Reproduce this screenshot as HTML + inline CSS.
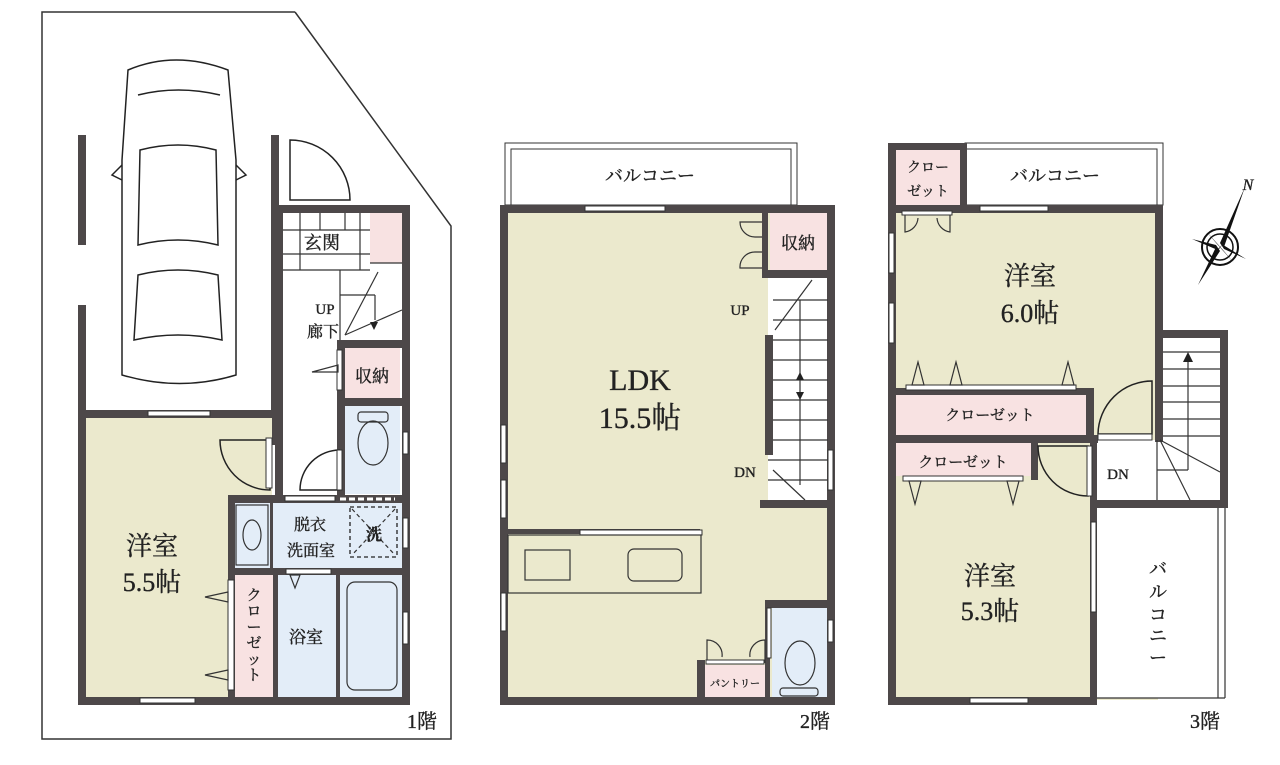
<!DOCTYPE html>
<html><head><meta charset="utf-8"><style>
html,body{margin:0;padding:0;background:#fff;}
svg{display:block;}
text{font-family:"Liberation Serif","Noto Serif CJK SC",serif;fill:#222;stroke:#222;stroke-width:0.35;}
</style></head><body>
<svg width="1280" height="765" viewBox="0 0 1280 765" xmlns="http://www.w3.org/2000/svg">
<defs>
<style>
.w{fill:#4d4849}
.b{fill:#ebe9cd}
.p{fill:#f8e2e2}
.bl{fill:#e3edf8}
.ln{fill:none;stroke:#222;stroke-width:1.5}
.tl{fill:none;stroke:#333;stroke-width:1.2}
.win{fill:#fff;stroke:#333;stroke-width:1}
</style>
</defs>

<!-- ===== FLOOR 1 ===== -->
<polyline fill="none" stroke="#333" stroke-width="1.5" points="295,12 42,12 42,739 451,739 451,226 295,12" />
<rect class="w" x="78" y="135" width="8" height="110"/>
<rect class="w" x="78" y="305" width="8" height="110"/>
<rect class="w" x="271" y="135" width="8" height="310"/>
<g class="ln">
<path d="M128,70 Q175,50 228,70 L236,160 L236,375 Q180,392 122,375 L122,160 Z"/>
<path d="M138,95 Q178,85 220,95"/>
<path d="M140,150 Q178,140 216,150 L218,245 Q178,235 138,245 Z"/>
<path d="M138,275 Q178,265 218,275 L222,340 Q178,330 134,340 Z"/>
<path d="M122,165 L112,175 L122,180 M236,165 L246,175 L236,180"/>
</g>
<rect class="b" x="86" y="418" width="186" height="280"/>
<rect x="283" y="213" width="119" height="282" fill="#fff"/>
<rect class="p" x="370" y="213" width="32" height="50"/>
<rect class="p" x="345" y="348" width="55" height="50"/>
<rect class="bl" x="345" y="406" width="55" height="88"/>
<rect class="bl" x="235" y="503" width="167" height="65"/>
<rect class="p" x="235" y="575" width="38" height="122"/>
<rect class="bl" x="278" y="575" width="58" height="122"/>
<rect class="bl" x="340" y="575" width="62" height="122"/>
<rect class="w" x="78" y="410" width="197" height="8"/>
<rect class="w" x="78" y="410" width="8" height="295"/>
<rect class="w" x="78" y="697" width="332" height="8"/>
<rect class="w" x="402" y="205" width="8" height="500"/>
<rect class="w" x="275" y="205" width="135" height="8"/>
<rect class="w" x="275" y="205" width="8" height="295"/>
<rect class="w" x="337" y="340" width="8" height="160"/>
<rect class="w" x="337" y="340" width="70" height="8"/>
<rect class="w" x="337" y="398" width="70" height="8"/>
<rect class="w" x="228" y="495" width="180" height="8"/>
<rect class="w" x="228" y="495" width="7" height="205"/>
<rect class="w" x="228" y="568" width="180" height="7"/>
<rect class="w" x="273" y="568" width="5" height="132"/>
<rect class="w" x="336" y="575" width="4" height="125"/>
<rect class="w" x="270" y="503" width="3" height="65"/>
<rect class="win" x="148" y="411" width="62" height="5"/>
<rect class="win" x="140" y="698" width="55" height="5"/>
<rect class="win" x="403" y="518" width="5" height="30"/>
<rect class="win" x="403" y="612" width="5" height="32"/>
<rect class="win" x="403" y="432" width="5" height="22"/>
<path class="ln" d="M290,200 L290,140 A60,60 0 0 1 350,200 Z"/>
<g class="tl">
<line x1="283" y1="230" x2="370" y2="230"/><line x1="283" y1="254" x2="370" y2="254"/>
<line x1="300" y1="213" x2="300" y2="270"/><line x1="320" y1="213" x2="320" y2="230"/><line x1="345" y1="213" x2="345" y2="230"/>
<line x1="360" y1="213" x2="360" y2="270"/><line x1="283" y1="270" x2="370" y2="270"/>
<line x1="370" y1="263" x2="402" y2="263"/>
</g>
<text x="322" y="249" font-size="18" text-anchor="middle">玄関</text>
<g class="tl">
<line x1="340" y1="270" x2="340" y2="340"/>
<line x1="340" y1="295" x2="375" y2="295"/><line x1="375" y1="295" x2="375" y2="320"/>
<line x1="345" y1="335" x2="378" y2="272"/><line x1="345" y1="335" x2="402" y2="310"/>
</g>
<polygon points="370,322 378,322 374,330" fill="#222"/>
<text x="325" y="314" font-size="15" text-anchor="middle">UP</text>
<text x="323" y="337" font-size="16" text-anchor="middle">廊下</text>
<text x="372" y="382" font-size="17" text-anchor="middle">収納</text>
<rect class="win" x="337" y="350" width="5" height="40"/>
<polygon class="tl" points="338,372 312,372 338,365" fill="#fff"/>
<path class="ln" d="M270,440 L220,440 A50,50 0 0 0 270,490 Z"/>
<rect class="win" x="266" y="438" width="6" height="50"/>
<path class="ln" d="M340,490 L300,490 A40,40 0 0 1 340,450"/>
<rect class="win" x="337" y="450" width="5" height="40"/>
<rect class="tl" x="358" y="412" width="30" height="10" rx="3" fill="#fff"/>
<ellipse class="tl" cx="373" cy="443" rx="15" ry="22" fill="#fff"/>
<rect class="win" x="285" y="496" width="50" height="5"/>
<line x1="340" y1="499" x2="395" y2="499" stroke="#fff" stroke-width="3" stroke-dasharray="6,3"/>
<rect class="tl" x="236" y="505" width="32" height="60" fill="#e3edf8"/>
<ellipse class="tl" cx="252" cy="535" rx="9" ry="15"/>
<text x="310" y="530" font-size="16" text-anchor="middle">脱衣</text>
<text x="311" y="556" font-size="16" text-anchor="middle">洗面室</text>
<rect x="350" y="507" width="47" height="50" fill="none" stroke="#222" stroke-width="1.3" stroke-dasharray="4,3"/>
<line class="tl" x1="352" y1="509" x2="395" y2="555" stroke-dasharray="4,3"/>
<line class="tl" x1="395" y1="509" x2="352" y2="555" stroke-dasharray="4,3"/>
<text x="374" y="540" font-size="16" text-anchor="middle" font-weight="bold">洗</text>
<rect class="win" x="286" y="569" width="45" height="5"/>
<polygon class="tl" points="290,575 300,575 295,588" fill="#fff"/>
<text x="306" y="643" font-size="17" text-anchor="middle">浴室</text>
<rect class="tl" x="347" y="582" width="50" height="108" rx="8" fill="#e3edf8"/>
<rect class="win" x="228" y="580" width="6" height="110"/>
<polygon class="tl" points="228,592 205,597 228,602" fill="#fff"/>
<polygon class="tl" points="228,670 205,675 228,680" fill="#fff"/>
<text font-size="15" text-anchor="middle"><tspan x="254" y="600">ク</tspan><tspan x="254" y="616">ロ</tspan><tspan x="254" y="632">ー</tspan><tspan x="254" y="648">ゼ</tspan><tspan x="254" y="664">ッ</tspan><tspan x="254" y="680">ト</tspan></text>
<text x="152" y="555" font-size="26" text-anchor="middle">洋室</text>
<text x="152" y="591" font-size="26" text-anchor="middle">5.5帖</text>
<text x="422" y="728" font-size="20" text-anchor="middle">1階</text>

<!-- ===== FLOOR 2 ===== -->
<rect x="505" y="143" width="292" height="62" fill="#fff" stroke="#333" stroke-width="1"/>
<rect x="511" y="149" width="280" height="56" fill="none" stroke="#333" stroke-width="1"/>
<text x="650" y="182" font-size="18" text-anchor="middle">バルコニー</text>
<rect class="b" x="508" y="213" width="320" height="487"/>
<rect class="p" x="770" y="213" width="57" height="57"/>
<rect x="768" y="278" width="60" height="222" fill="#fff"/>
<rect class="bl" x="772" y="608" width="55" height="90"/>
<rect class="p" x="705" y="665" width="60" height="33"/>
<rect class="w" x="500" y="205" width="335" height="8"/>
<rect class="w" x="500" y="205" width="8" height="500"/>
<rect class="w" x="500" y="697" width="335" height="8"/>
<rect class="w" x="827" y="205" width="8" height="500"/>
<rect class="w" x="762" y="213" width="6" height="65"/>
<rect class="w" x="762" y="270" width="70" height="8"/>
<rect class="w" x="765" y="335" width="8" height="120"/>
<rect class="w" x="760" y="500" width="72" height="8"/>
<rect class="w" x="765" y="600" width="70" height="8"/>
<rect class="w" x="765" y="600" width="5" height="100"/>
<rect class="w" x="697" y="660" width="8" height="40"/>
<rect class="w" x="500" y="529" width="200" height="5"/>
<rect class="win" x="585" y="206" width="80" height="5"/>
<rect class="win" x="501" y="425" width="5" height="38"/>
<rect class="win" x="501" y="480" width="5" height="38"/>
<rect class="win" x="501" y="593" width="5" height="38"/>
<rect class="win" x="828" y="450" width="5" height="40"/>
<rect class="win" x="828" y="620" width="5" height="22"/>
<rect class="win" x="580" y="530" width="122" height="5"/>
<rect class="tl" x="508" y="535" width="193" height="58" fill="none"/>
<rect class="tl" x="525" y="550" width="45" height="30"/>
<rect class="tl" x="628" y="549" width="54" height="32" rx="6"/>
<path class="tl" d="M762,222 L740,222 A15,15 0 0 0 755,237 L762,237 M762,268 L740,268 A15,15 0 0 1 755,252 L762,252" fill="#fff"/>
<text x="798" y="249" font-size="17" text-anchor="middle">収納</text>
<g class="tl">
<line x1="773" y1="300" x2="828" y2="300"/><line x1="773" y1="320" x2="828" y2="320"/>
<line x1="773" y1="340" x2="828" y2="340"/><line x1="773" y1="360" x2="828" y2="360"/>
<line x1="773" y1="380" x2="828" y2="380"/><line x1="773" y1="400" x2="828" y2="400"/>
<line x1="773" y1="420" x2="828" y2="420"/><line x1="773" y1="440" x2="828" y2="440"/>
<line x1="768" y1="460" x2="828" y2="460"/><line x1="768" y1="480" x2="828" y2="480"/>
<line x1="800" y1="300" x2="800" y2="485"/>
<line x1="775" y1="330" x2="812" y2="280"/><line x1="773" y1="470" x2="805" y2="500"/>
</g>
<polygon points="796,380 804,380 800,372" fill="#222"/>
<polygon points="796,392 804,392 800,400" fill="#222"/>
<text x="740" y="315" font-size="15" text-anchor="middle">UP</text>
<text x="745" y="477" font-size="15" text-anchor="middle">DN</text>
<text x="640" y="390" font-size="30" text-anchor="middle">LDK</text>
<text x="640" y="428" font-size="30" text-anchor="middle">15.5帖</text>
<path class="tl" d="M707,663 L707,640 A15,15 0 0 1 722,657 M765,663 L765,640 A15,15 0 0 0 750,657" fill="#fff"/>
<rect class="win" x="706" y="660" width="58" height="4"/>
<text x="735" y="687" font-size="10" text-anchor="middle">パントリー</text>
<rect class="win" x="767" y="608" width="4" height="50"/>
<rect class="tl" x="780" y="688" width="38" height="8" rx="3" fill="#fff"/>
<ellipse class="tl" cx="800" cy="663" rx="15" ry="22" fill="#fff"/>
<text x="815" y="728" font-size="20" text-anchor="middle">2階</text>

<!-- ===== FLOOR 3 ===== -->
<rect x="965" y="143" width="198" height="62" fill="#fff" stroke="#333" stroke-width="1"/>
<rect x="965" y="149" width="192" height="56" fill="none" stroke="#333" stroke-width="1"/>
<text x="1055" y="182" font-size="18" text-anchor="middle">バルコニー</text>
<rect class="b" x="896" y="213" width="262" height="487"/>
<rect class="p" x="896" y="150" width="64" height="55"/>
<rect class="p" x="896" y="395" width="190" height="40"/>
<rect class="p" x="896" y="443" width="135" height="33"/>
<rect x="1097" y="440" width="63" height="60" fill="#fff"/>
<rect x="1160" y="338" width="63" height="162" fill="#fff"/>
<rect x="1097" y="508" width="128" height="190" fill="#fff"/>
<rect class="w" x="888" y="143" width="8" height="562"/>
<rect class="w" x="888" y="143" width="77" height="7"/>
<rect class="w" x="960" y="143" width="7" height="70"/>
<rect class="w" x="888" y="205" width="275" height="8"/>
<rect class="w" x="1155" y="205" width="8" height="237"/>
<rect class="w" x="1155" y="330" width="73" height="8"/>
<rect class="w" x="1220" y="330" width="8" height="175"/>
<rect class="w" x="1090" y="500" width="138" height="8"/>
<rect class="w" x="1090" y="436" width="7" height="269"/>
<rect class="w" x="888" y="697" width="209" height="8"/>
<rect class="w" x="888" y="388" width="206" height="7"/>
<rect class="w" x="1086" y="388" width="8" height="50"/>
<rect class="w" x="888" y="435" width="210" height="8"/>
<rect class="w" x="1031" y="435" width="7" height="45"/>
<line class="tl" x1="1157" y1="440" x2="1157" y2="500"/>
<line class="tl" x1="1225" y1="508" x2="1225" y2="698"/>
<line class="tl" x1="1218" y1="508" x2="1218" y2="698"/>
<line class="tl" x1="1097" y1="698" x2="1225" y2="698"/>
<rect class="win" x="980" y="206" width="68" height="5"/>
<rect class="win" x="889" y="233" width="5" height="40"/>
<rect class="win" x="889" y="303" width="5" height="40"/>
<rect class="win" x="970" y="698" width="58" height="5"/>
<rect class="win" x="1091" y="522" width="5" height="90"/>
<text x="928" y="172" font-size="14" text-anchor="middle">クロー</text>
<text x="928" y="196" font-size="14" text-anchor="middle">ゼット</text>
<path class="tl" d="M905,213 L905,232 A15,15 0 0 0 918,218 M950,213 L950,232 A15,15 0 0 1 937,218" fill="#fff"/>
<rect class="win" x="902" y="211" width="50" height="4"/>
<text x="1030" y="285" font-size="26" text-anchor="middle">洋室</text>
<text x="1030" y="322" font-size="26" text-anchor="middle">6.0帖</text>
<rect class="win" x="906" y="385" width="170" height="5"/>
<polygon class="tl" points="912,385 918,362 924,385" fill="#fff"/>
<polygon class="tl" points="950,385 956,362 962,385" fill="#fff"/>
<polygon class="tl" points="1062,385 1068,362 1074,385" fill="#fff"/>
<text x="990" y="420" font-size="15" text-anchor="middle">クローゼット</text>
<text x="963" y="467" font-size="15" text-anchor="middle">クローゼット</text>
<rect class="win" x="903" y="476" width="120" height="5"/>
<polygon class="tl" points="909,481 915,504 921,481" fill="#fff"/>
<polygon class="tl" points="1007,481 1013,504 1019,481" fill="#fff"/>
<text x="990" y="585" font-size="26" text-anchor="middle">洋室</text>
<text x="990" y="620" font-size="26" text-anchor="middle">5.3帖</text>
<!-- doors -->
<path class="ln" d="M1098,434 A54,54 0 0 1 1152,381 L1152,434 Z" fill="#fff"/>
<rect class="win" x="1098" y="434" width="54" height="6"/>
<path class="ln" d="M1038,446 L1088,446 L1088,496 A50,50 0 0 1 1038,446 Z" fill="#fff"/>
<rect class="win" x="1087" y="446" width="5" height="50"/>
<!-- stairs -->
<g class="tl">
<line x1="1163" y1="352" x2="1220" y2="352"/><line x1="1163" y1="369" x2="1220" y2="369"/>
<line x1="1163" y1="386" x2="1220" y2="386"/><line x1="1163" y1="402" x2="1220" y2="402"/>
<line x1="1163" y1="419" x2="1220" y2="419"/><line x1="1163" y1="436" x2="1220" y2="436"/>
<line x1="1188" y1="358" x2="1188" y2="470"/><line x1="1157" y1="470" x2="1188" y2="470"/>
<line x1="1160" y1="440" x2="1220" y2="472"/><line x1="1160" y1="440" x2="1190" y2="500"/>
</g>
<polygon points="1183,362 1193,362 1188,352" fill="#222"/>
<text x="1118" y="479" font-size="15" text-anchor="middle">DN</text>
<text font-size="18" text-anchor="middle"><tspan x="1158" y="575">バ</tspan><tspan x="1158" y="598">ル</tspan><tspan x="1158" y="621">コ</tspan><tspan x="1158" y="642">ニ</tspan><tspan x="1158" y="664">ー</tspan></text>
<text x="1205" y="728" font-size="20" text-anchor="middle">3階</text>
<g transform="translate(1220,247)">
<circle r="18" fill="none" stroke="#111" stroke-width="2"/>
<circle r="13" fill="none" stroke="#111" stroke-width="1.5"/>
<polygon points="0,-4 25,-60 4,0" fill="#111"/>
<polygon points="0,4 -22,38 -4,0" fill="#111"/>
<polygon points="-4,-2 -28,-8 0,4" fill="#111"/>
<polygon points="4,2 26,12 0,-4" fill="#111"/>
<polygon points="-3,-3 -14,-16 3,3" fill="#111"/>
<polygon points="3,3 14,16 -3,-3" fill="#111"/>
<polygon points="-3,3 -12,16 3,-3" fill="#111"/>
<polygon points="3,-3 14,-14 -3,3" fill="#111"/>
</g>
<text x="1248" y="190" font-size="16" font-style="italic" text-anchor="middle">N</text>
</svg>
</body></html>
